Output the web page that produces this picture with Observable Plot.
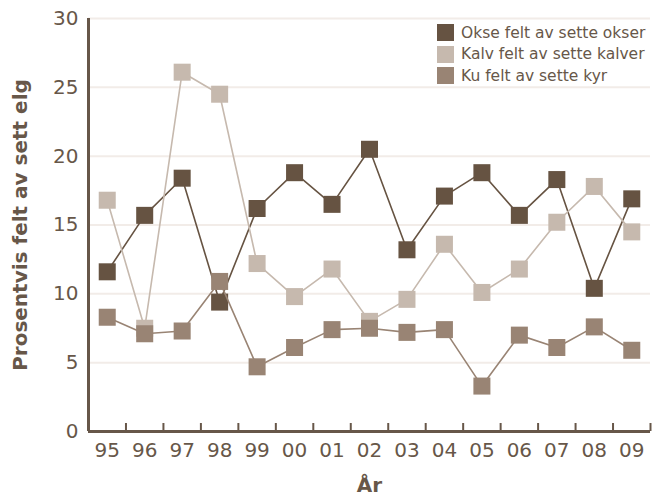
<!DOCTYPE html>
<html><head><meta charset="utf-8">
<script src="https://cdn.jsdelivr.net/npm/d3@7"></script>
<script src="https://cdn.jsdelivr.net/npm/@observablehq/plot@0.6"></script>
<style>
body{margin:0;background:#fff;}
#wrap{position:relative;width:656px;height:501px;}
#legend{position:absolute;left:437px;top:22px;font-family:"DejaVu Sans";font-size:15.5px;color:#675749;}
.row{display:flex;align-items:center;height:21.5px;white-space:nowrap;}
.sw{width:17px;height:17px;margin-right:7px;flex:none;}
svg [aria-label="x-axis label"] text, svg [aria-label="y-axis label"] text{font-weight:bold;font-size:20px;}
</style>
</head><body>
<div id="wrap"></div>
<script>
const years = ["95","96","97","98","99","00","01","02","03","04","05","06","07","08","09"];
const okse = [11.6,15.7,18.4,9.4,16.2,18.8,16.5,20.5,13.2,17.1,18.8,15.7,18.3,10.4,16.9];
const kalv = [16.8,7.5,26.1,24.5,12.2,9.8,11.8,8.0,9.6,13.6,10.1,11.8,15.2,17.8,14.5];
const ku   = [8.3,7.1,7.3,10.9,4.7,6.1,7.4,7.5,7.2,7.4,3.3,7.0,6.1,7.6,5.9];
const seriesNames = ["Okse felt av sette okser","Kalv felt av sette kalver","Ku felt av sette kyr"];
const seriesColors = ["#665342","#c6b9ae","#998474"];
const yTicks = [0,5,10,15,20,25,30];

const allSeries = [okse, kalv, ku];
const rows = allSeries.map((vals, s) => vals.map((v, i) => ({i: i + 0.5, year: years[i], value: v, series: seriesNames[s]})));
const axisColor = "#675749";

const marks = [
  Plot.gridY({ticks: yTicks.filter(d => d > 0), stroke: "#f2ece8", strokeOpacity: 1, strokeWidth: 2}),
  Plot.axisY({ticks: yTicks, tickSize: 0, tickPadding: 10, fontSize: 20, label: "Prosentvis felt av sett elg", labelAnchor: "center", labelOffset: 76, labelArrow: "none"}),
  Plot.axisX({ticks: d3.range(0, years.length + 1), tickSize: -8, tickFormat: () => "", label: null, stroke: axisColor, strokeWidth: 2}),
  Plot.axisX({ticks: years.map((_, i) => i + 0.5), tickSize: 0, tickPadding: 11, fontSize: 20, tickFormat: d => years[Math.floor(d)], label: "År", labelAnchor: "center", labelOffset: 60, labelArrow: "none"}),
  Plot.ruleY([0], {stroke: axisColor, strokeWidth: 3}),
  Plot.ruleX([0], {stroke: axisColor, strokeWidth: 3})
];
rows.forEach((r, s) => {
  marks.push(Plot.line(r, {x: "i", y: "value", stroke: seriesColors[s], strokeWidth: 1.6}));
  marks.push(Plot.dot(r, {x: "i", y: "value", symbol: "square", r: 9.6, fill: seriesColors[s], stroke: "none"}));
});

const chart = Plot.plot({
  width: 656, height: 501,
  marginLeft: 88, marginRight: 6, marginTop: 18, marginBottom: 70,
  x: {domain: [0, years.length]},
  y: {domain: [0, 30]},
  style: {fontFamily: "DejaVu Sans", color: "#675749", background: "transparent"},
  marks
});
const wrap = document.getElementById("wrap");
wrap.appendChild(chart);

const legend = document.createElement("div");
legend.id = "legend";
seriesNames.forEach((n, s) => {
  const row = document.createElement("div");
  row.className = "row";
  const sw = document.createElement("div");
  sw.className = "sw";
  sw.style.background = seriesColors[s];
  const t = document.createElement("span");
  t.textContent = n;
  row.appendChild(sw); row.appendChild(t);
  legend.appendChild(row);
});
wrap.appendChild(legend);
</script>
</body></html>
